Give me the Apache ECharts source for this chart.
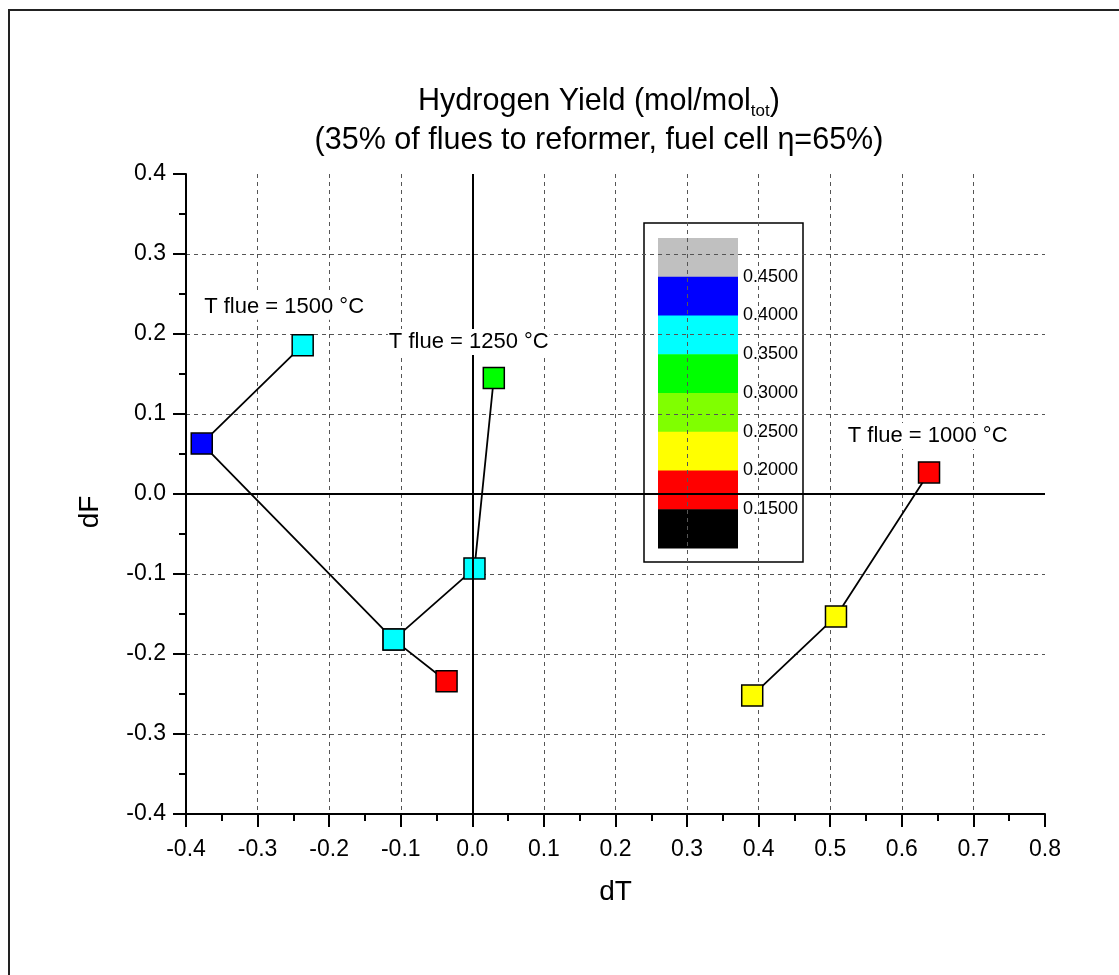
<!DOCTYPE html>
<html><head><meta charset="utf-8">
<script src="https://cdn.jsdelivr.net/npm/echarts@6/dist/echarts.min.js"></script>
<style>html,body{margin:0;padding:0;background:#fff}#c{width:1119px;height:975px}</style>
</head><body><div id="c"></div>
<script>
// ---- data ----
const dT1500 = [-0.237, -0.378, -0.110, -0.036];
const dF1500 = [0.186, 0.063, -0.182, -0.234];
const h2_1500 = [0.37, 0.42, 0.37, 0.18];

const dT1250 = [0.030, 0.003, -0.110];
const dF1250 = [0.145, -0.093, -0.182];
const h2_1250 = [0.32, 0.37, 0.37];

const dT1000 = [0.638, 0.508, 0.391];
const dF1000 = [0.027, -0.153, -0.252];
const h2_1000 = [0.18, 0.22, 0.22];

const annotText = ['T flue = 1500 °C', 'T flue = 1250 °C', 'T flue = 1000 °C'];
const annotX = [-0.376, -0.118, 0.523];
const annotY = [0.234, 0.190, 0.0725];

const legendColors = ['#C0C0C0', '#0000FF', '#00FFFF', '#00FF00', '#80FF00', '#FFFF00', '#FF0000', '#000000'];
const legendBounds = [0.45, 0.40, 0.35, 0.30, 0.25, 0.20, 0.15];
const legendLabels = ['0.4500', '0.4000', '0.3500', '0.3000', '0.2500', '0.2000', '0.1500'];

// ---- build ----
const FONT = '"Liberation Sans", Arial, sans-serif';
function pts(xs, ys, vs) { return xs.map((x, i) => vs ? [x, ys[i], vs[i]] : [x, ys[i]]); }

const pieces = legendColors.map((c, i) => {
  const p = { color: c };
  if (i > 0) p.lt = legendBounds[i - 1];
  if (i < legendBounds.length) p.gte = legendBounds[i];
  return p;
});

const lineStyle = { color: '#000', width: 1.8 };
function lineSeries(data, extra) {
  return Object.assign({ type: 'line', data: data, symbol: 'none', lineStyle: lineStyle, z: 2, silent: true, animation: false }, extra || {});
}
function scatterSeries(data) {
  return { type: 'scatter', data: data, symbol: 'rect', symbolSize: 21, z: 4, animation: false,
    itemStyle: { borderColor: '#000', borderWidth: 1.5, opacity: 1 } };
}

const axisCommon = {
  type: 'value', interval: 0.1,
  axisLine: { show: true, onZero: false, lineStyle: { color: '#000', width: 2 } },
  axisTick: { show: true, inside: false, length: 13, lineStyle: { color: '#000', width: 2 } },
  minorTick: { show: true, splitNumber: 2, length: 7, lineStyle: { color: '#000', width: 2 } },
  splitLine: { show: true, showMinLine: false, showMaxLine: false, lineStyle: { type: [4, 4], color: '#555', width: 1 } },
  axisLabel: { fontSize: 23, color: '#000', fontFamily: FONT,
    formatter: v => (Math.abs(v) < 1e-9 ? 0 : v).toFixed(1) }
};

// legend graphic
const LX = 644, LY = 223, blockH = 38.75;
const legendChildren = [
  { type: 'rect', shape: { x: 0, y: 0, width: 159, height: 339 }, style: { fill: '#fff', stroke: '#000', lineWidth: 1.5 } }
];
legendColors.forEach((c, i) => {
  legendChildren.push({ type: 'rect', shape: { x: 14, y: 15 + i * blockH, width: 80, height: blockH + 0.5 }, style: { fill: c } });
});
legendLabels.forEach((t, i) => {
  legendChildren.push({ type: 'text', x: 99, y: 15 + (i + 1) * blockH,
    style: { text: t, fill: '#000', fontSize: 18, fontFamily: FONT, verticalAlign: 'middle', align: 'left' } });
});

const option = {
  backgroundColor: '#fff',
  animation: false,
  title: {
    left: 594, top: 77, textAlign: 'center',
    text: '{a|Hydrogen Yield (mol/mol}{s|tot}{a|)}\n{a|(35% of flues to reformer, fuel cell η=65%)}',
    textStyle: { fontWeight: 'normal', align: 'center', rich: {
      a: { fontSize: 30.5, fontWeight: 'normal', fontFamily: FONT, color: '#000', lineHeight: 39 },
      s: { fontSize: 17, fontWeight: 'normal', fontFamily: FONT, color: '#000', lineHeight: 39, padding: [20, 0, 0, 0] }
    } }
  },
  grid: { left: 186, top: 174, width: 859, height: 640, containLabel: false },
  xAxis: Object.assign({}, axisCommon, { min: -0.4, max: 0.8,
    axisLabel: Object.assign({}, axisCommon.axisLabel, { margin: 24 }),
    name: 'dT', nameLocation: 'middle', nameGap: 64,
    nameTextStyle: { fontSize: 28, color: '#000', fontFamily: FONT } }),
  yAxis: Object.assign({}, axisCommon, { min: -0.4, max: 0.4,
    axisLabel: Object.assign({}, axisCommon.axisLabel, { margin: 20 }) }),
  visualMap: { type: 'piecewise', show: false, dimension: 2, seriesIndex: [3, 4, 5], pieces: pieces },
  series: [
    lineSeries(pts(dT1500, dF1500), {
      markLine: { silent: true, symbol: 'none', label: { show: false },
        lineStyle: { color: '#000', width: 2, type: 'solid' },
        data: [{ xAxis: 0 }, { yAxis: 0 }] }
    }),
    lineSeries(pts(dT1250, dF1250)),
    lineSeries(pts(dT1000, dF1000)),
    scatterSeries(pts(dT1500, dF1500, h2_1500)),
    scatterSeries(pts(dT1250, dF1250, h2_1250)),
    scatterSeries(pts(dT1000, dF1000, h2_1000)),
    { type: 'scatter', symbolSize: 0, z: 5, silent: true,
      itemStyle: { opacity: 1, color: 'transparent' },
      data: annotText.map((t, i) => ({ name: t, value: [annotX[i], annotY[i]] })),
      label: { show: true, position: 'right', distance: 0, formatter: p => p.name,
        fontSize: 22, color: '#000', fontFamily: FONT, backgroundColor: '#fff', padding: [2, 1, 2, 1] } }
  ],
  graphic: [
    { type: 'rect', shape: { x: 9, y: 10, width: 1300, height: 1200 }, style: { fill: 'none', stroke: '#222', lineWidth: 2 }, z: 0 },
    { type: 'group', x: LX, y: LY, children: legendChildren, z: 10 },
    { type: 'text', x: 90, y: 512, rotation: Math.PI / 2,
      style: { text: 'dF', fontSize: 28, fontFamily: FONT, fill: '#000', align: 'center', verticalAlign: 'middle' } }
  ]
};

const chart = echarts.init(document.getElementById('c'), null, { renderer: 'canvas' });
chart.setOption(option);
</script>
</body></html>
